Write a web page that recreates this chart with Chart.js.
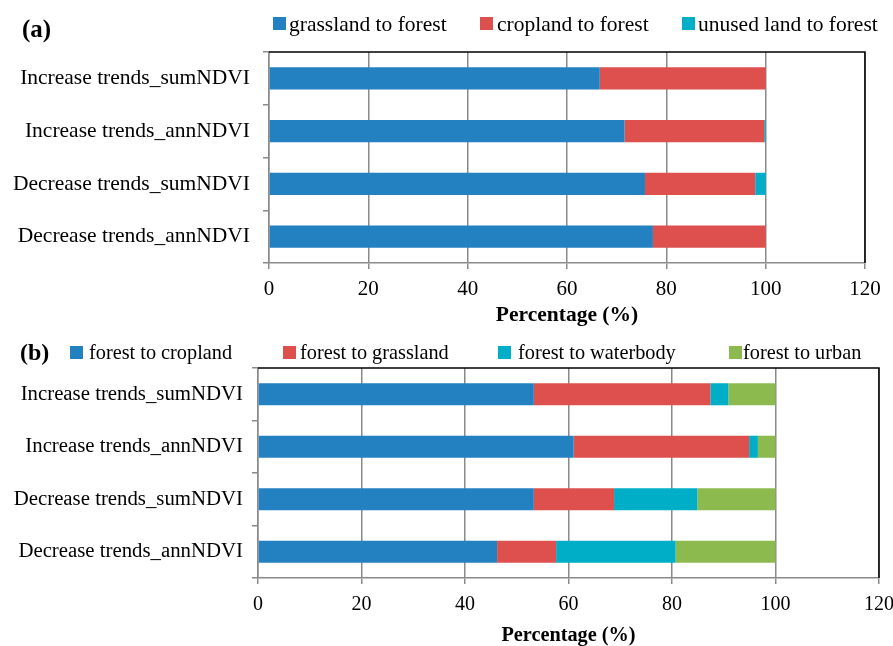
<!DOCTYPE html>
<html>
<head>
<meta charset="utf-8">
<script src="https://cdn.jsdelivr.net/npm/chart.js@4"></script>
<style>
  body { margin: 0; background: #fff; overflow: hidden; }
  canvas { position: absolute; left: 0; }
  #chartA { top: 0; }
  #chartB { top: 330px; }
</style>
</head>
<body>
<canvas id="chartA" width="893" height="330"></canvas>
<canvas id="chartB" width="893" height="316"></canvas>
<script>
// Categories (top to bottom)
const categories = ['Increase trends_sumNDVI', 'Increase trends_annNDVI', 'Decrease trends_sumNDVI', 'Decrease trends_annNDVI'];

// Panel (a): conversions to forest, percent
const namesA = ['grassland to forest', 'cropland to forest', 'unused land to forest'];
const grasslandToForest = [66.6, 71.6, 75.7, 77.3];
const croplandToForest = [33.4, 28.1, 22.2, 22.7];
const unusedToForest = [0, 0.3, 2.1, 0];

// Panel (b): conversions from forest, percent
const namesB = ['forest to cropland', 'forest to grassland', 'forest to waterbody', 'forest to urban'];
const forestToCropland = [53.3, 61.0, 53.3, 46.2];
const forestToGrassland = [34.1, 33.9, 15.5, 11.4];
const forestToWaterbody = [3.5, 1.7, 16.1, 23.1];
const forestToUrban = [9.1, 3.4, 15.1, 19.3];

// Percentage axis ticks
const xTicks = [0, 20, 40, 60, 80, 100, 120];

const colors = ['#2381C1', '#DE504E', '#00AEC7', '#8CBA4E'];
const serif = '"Liberation Serif", "Times New Roman", serif';

// Draws panel tag, custom legend and the black top/right frame
const panelDecor = {
  id: 'panelDecor',
  afterDraw(chart, args, opts) {
    const {ctx, chartArea: {top, right, bottom, left}} = chart;
    ctx.save();
    // frame
    ctx.strokeStyle = '#000';
    ctx.lineWidth = 1.5;
    ctx.beginPath();
    ctx.moveTo(left, top);
    ctx.lineTo(right, top);
    ctx.lineTo(right, bottom);
    ctx.stroke();

    // panel tag
    ctx.fillStyle = '#000';
    ctx.textBaseline = 'alphabetic';
    ctx.textAlign = 'left';
    ctx.font = 'bold ' + opts.tagSize + 'px ' + serif;
    ctx.fillText(opts.tag, opts.tagX, opts.tagY);

    // legend
    ctx.font = opts.fontSize + 'px ' + serif;
    chart.data.datasets.forEach((ds, i) => {
      ctx.fillStyle = ds.backgroundColor;
      ctx.fillRect(opts.boxX[i], opts.boxY, 13, 13);
      ctx.fillStyle = '#000';
      ctx.fillText(ds.label, opts.textX[i], opts.textY);
    });
    ctx.restore();
  }
};

function makeChart(id, names, series, cfg) {
  const datasets = series.map((data, i) => ({
    label: names[i],
    data: data,
    backgroundColor: colors[i],
    borderWidth: 0,
    barPercentage: 0.42,
    categoryPercentage: 1.0
  }));

  return new Chart(document.getElementById(id), {
    type: 'bar',
    data: { labels: categories, datasets: datasets },
    plugins: [panelDecor],
    options: {
      indexAxis: 'y',
      responsive: false,
      animation: false,
      layout: { padding: { left: 0, right: cfg.padRight, top: cfg.padTop, bottom: 0 } },
      plugins: {
        legend: { display: false },
        tooltip: { enabled: false },
        panelDecor: cfg.decor
      },
      scales: {
        x: {
          stacked: true,
          min: 0,
          max: 120,
          afterBuildTicks: (scale) => { scale.ticks = xTicks.map(v => ({ value: v })); },
          afterFit: (scale) => {
            scale.height = cfg.xHeight;
            scale.paddingLeft = 0;
            scale.paddingRight = 0;
          },
          grid: { color: '#8a8a8a', lineWidth: 1.5, tickLength: 6 },
          border: { color: '#8a8a8a', width: 1.5 },
          ticks: { color: '#000', padding: cfg.xPad, font: { family: serif, size: cfg.tickSize } },
          title: {
            display: true,
            text: 'Percentage (%)',
            color: '#000',
            padding: { top: 0, bottom: cfg.titlePad },
            font: { family: serif, size: cfg.titleSize, weight: 'bold' }
          }
        },
        y: {
          stacked: true,
          afterFit: (scale) => { scale.width = cfg.yWidth; },
          grid: { drawOnChartArea: false, color: '#8a8a8a', lineWidth: 1.5, tickLength: 6 },
          border: { color: '#8a8a8a', width: 1.5 },
          ticks: { color: '#000', padding: cfg.yPad, font: { family: serif, size: cfg.labelSize } }
        }
      }
    }
  });
}

makeChart('chartA', namesA, [grasslandToForest, croplandToForest, unusedToForest], {
  padRight: 28, padTop: 52, xHeight: 67, xPad: 8, titlePad: 2, yWidth: 269, yPad: 13,
  tickSize: 21, titleSize: 21.5, labelSize: 21.5,
  decor: { tag: '(a)', tagX: 22, tagY: 37, tagSize: 25, fontSize: 21.5,
           boxX: [273, 480, 682], boxY: 17, textX: [289, 497, 698], textY: 31 }
});

makeChart('chartB', namesB, [forestToCropland, forestToGrassland, forestToWaterbody, forestToUrban], {
  padRight: 14, padTop: 38, xHeight: 68, xPad: 9, titlePad: -2, yWidth: 258, yPad: 9,
  tickSize: 20, titleSize: 20.3, labelSize: 20.8,
  decor: { tag: '(b)', tagX: 20, tagY: 30, tagSize: 24, fontSize: 20.3,
           boxX: [70, 283, 498, 729], boxY: 16, textX: [89, 300, 518, 743], textY: 29 }
});
</script>
</body>
</html>
